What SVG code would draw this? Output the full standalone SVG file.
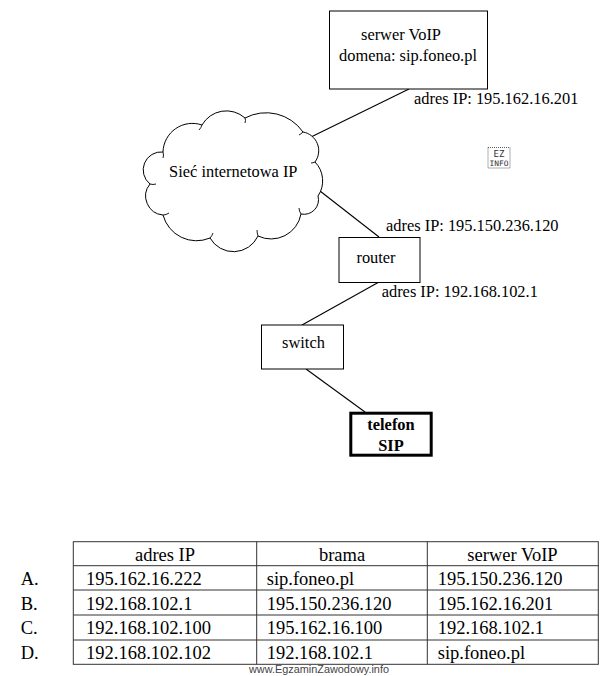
<svg xmlns="http://www.w3.org/2000/svg" width="608" height="676" viewBox="0 0 608 676">
<style>
.t{font-family:"Liberation Serif","Times New Roman",serif;font-size:16.4px;fill:#000}
.c{text-anchor:middle}
.b{font-weight:bold}
.box{fill:#fff;stroke:#000;stroke-width:1}
.ln{stroke:#000;stroke-width:1.1;fill:none}
.hk{stroke:#000;stroke-width:0.9;fill:none}
.tb{font-family:"Liberation Serif","Times New Roman",serif;font-size:18.5px;fill:#000}
.grid{stroke:#333;stroke-width:1;fill:none}
</style>
<rect width="608" height="676" fill="#fff"/>
<g id="connectors">
<line class="ln" x1="409" y1="89" x2="311" y2="137"/>
<line class="ln" x1="320" y1="191" x2="379" y2="237"/>
<line class="ln" x1="379" y1="282" x2="302" y2="325"/>
<line class="ln" x1="306" y1="369" x2="365" y2="412"/>
</g>
<g id="server">
<rect class="box" x="329.5" y="11" width="158" height="78"/>
<text class="t c" x="401" y="39.5">serwer VoIP</text>
<text class="t c" x="408" y="61">domena: sip.foneo.pl</text>
</g>
<g id="cloud">
<path class="box" d="M163,152 A29.4 29.4 0 0 1 202,125 A28 28 0 0 1 245,118 A45 45 0 0 1 303,132 A19 19 0 0 1 315,162 A27 27 0 0 1 318,196 A14.5 14.5 0 0 1 301,214 A30.4 30.4 0 0 1 258,236 A27 27 0 0 1 210,238 A34.6 34.6 0 0 1 163,215 A19 19 0 0 1 150,184 A18 18 0 0 1 163,152 Z"/>
<path class="hk" d="M163,152 q1,3 0,6 M202,125 q-1,3 -3,5 M245,118 q1,2 0,5 M303,132 q-2,2 -4,3 M315,162 q-2,1 -4,1 M301,214 q-2,-3 -2,-6 M258,236 q-1,-3 -1,-6 M210,238 q2,-2 3,-5 M163,215 q3,0 6,-2 M150,184 q3,1 6,0"/>
<text class="t c" x="233.3" y="176.7">Sieć internetowa IP</text>
</g>
<g id="router">
<rect class="box" x="339" y="237.5" width="81" height="45"/>
<text class="t c" x="376" y="262.7">router</text>
</g>
<g id="switch">
<rect class="box" x="261.5" y="325" width="82" height="44"/>
<text class="t c" x="303.5" y="348.3">switch</text>
</g>
<g id="telefon">
<rect class="box" x="350.8" y="413.2" width="80.4" height="42" style="stroke-width:3"/>
<text class="t c b" x="391" y="430">telefon</text>
<text class="t c b" x="391" y="450.7">SIP</text>
</g>
<g id="labels">
<text class="t" x="414" y="104.3">adres IP: 195.162.16.201</text>
<text class="t" x="386" y="231">adres IP: 195.150.236.120</text>
<text class="t" x="381.7" y="297.3">adres IP: 192.168.102.1</text>
</g>
<g id="logo">
<rect x="488" y="147.5" width="22" height="20.5" fill="none" stroke="#333" stroke-width="0.8" stroke-dasharray="1,1"/>
<text x="499" y="157" font-family="DejaVu Sans Mono,monospace" font-size="9" text-anchor="middle" fill="#333">EZ</text>
<text x="499" y="166" font-family="DejaVu Sans Mono,monospace" font-size="7.5" text-anchor="middle" fill="#333" textLength="19" lengthAdjust="spacingAndGlyphs">INFO</text>
</g>
<g id="table">
<rect class="grid" x="73.3" y="541.7" width="525" height="122.6"/>
<line class="grid" x1="256.7" y1="541.7" x2="256.7" y2="664.3"/>
<line class="grid" x1="427.3" y1="541.7" x2="427.3" y2="664.3"/>
<line class="grid" x1="73.3" y1="565.7" x2="598.3" y2="565.7"/>
<line class="grid" x1="73.3" y1="590" x2="598.3" y2="590"/>
<line class="grid" x1="73.3" y1="615" x2="598.3" y2="615"/>
<line class="grid" x1="73.3" y1="640" x2="598.3" y2="640"/>
<text class="tb c" x="165" y="561">adres IP</text>
<text class="tb c" x="342" y="561">brama</text>
<text class="tb c" x="512.5" y="561">serwer VoIP</text>
<text class="tb" x="20.7" y="585">A.</text>
<text class="tb" x="20.7" y="610">B.</text>
<text class="tb" x="20.7" y="634.3">C.</text>
<text class="tb" x="20.7" y="659">D.</text>
<text class="tb" x="86" y="585">195.162.16.222</text>
<text class="tb" x="266.7" y="585">sip.foneo.pl</text>
<text class="tb" x="437.7" y="585">195.150.236.120</text>
<text class="tb" x="86" y="610">192.168.102.1</text>
<text class="tb" x="266.7" y="610">195.150.236.120</text>
<text class="tb" x="437.7" y="610">195.162.16.201</text>
<text class="tb" x="86" y="634.3">192.168.102.100</text>
<text class="tb" x="266.7" y="634.3">195.162.16.100</text>
<text class="tb" x="437.7" y="634.3">192.168.102.1</text>
<text class="tb" x="86" y="659">192.168.102.102</text>
<text class="tb" x="266.7" y="659">192.168.102.1</text>
<text class="tb" x="437.7" y="659">sip.foneo.pl</text>
</g>
<text x="249" y="673" font-family="Liberation Sans,Arial,sans-serif" font-size="10.5" fill="#444" textLength="140" lengthAdjust="spacingAndGlyphs">www.EgzaminZawodowy.info</text>
</svg>
